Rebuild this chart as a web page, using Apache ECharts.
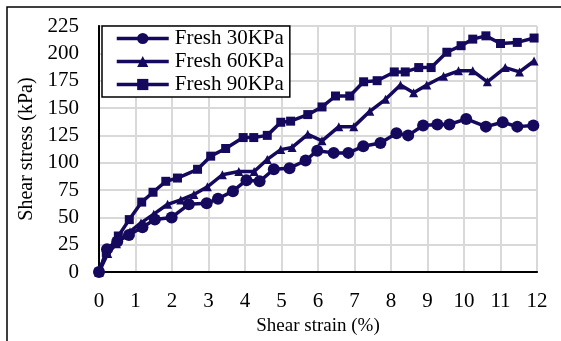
<!DOCTYPE html>
<html>
<head>
<meta charset="utf-8">
<title>Shear stress vs strain</title>
<script src="https://cdn.jsdelivr.net/npm/echarts@6/dist/echarts.min.js"></script>
<style>
    html, body { margin: 0; padding: 0; background: #fff; }
    #chart { width: 561px; height: 341px; }
</style>
</head>
<body>
<div id="chart"></div>
<script>
// 数据
var seriesNames = ['Fresh 30KPa', 'Fresh 60KPa', 'Fresh 90KPa'];

var strain30 = [0, 0.22, 0.5, 0.82, 1.19, 1.53, 1.99, 2.46, 2.95, 3.26, 3.67, 4.04, 4.4, 4.79, 5.22, 5.66, 5.98, 6.43, 6.83, 7.24, 7.71, 8.15, 8.47, 8.88, 9.27, 9.6, 10.06, 10.6, 11.06, 11.46, 11.9];
var stress30 = [0, 21, 28, 34, 41, 48, 50, 62, 63, 67, 74, 84, 83, 94, 95, 102, 111, 109, 109, 115, 118, 127, 125, 134, 135, 135, 140, 133, 137, 133, 134];

var strain60 = [0, 0.24, 0.48, 0.85, 1.15, 1.5, 1.88, 2.24, 2.6, 2.97, 3.38, 3.83, 4.25, 4.61, 4.98, 5.29, 5.72, 6.11, 6.57, 6.98, 7.42, 7.85, 8.26, 8.62, 8.98, 9.44, 9.85, 10.24, 10.64, 11.13, 11.52, 11.92];
var stress60 = [0, 17, 26, 37, 45, 53, 62, 66, 71, 78, 89, 92, 92, 103, 112, 114, 126, 120, 133, 133, 147, 158, 171, 164, 171, 179, 184, 184, 174, 187, 183, 193];

var strain90 = [0, 0.2, 0.53, 0.83, 1.17, 1.48, 1.83, 2.15, 2.7, 3.06, 3.47, 3.95, 4.24, 4.61, 4.98, 5.25, 5.72, 6.11, 6.48, 6.87, 7.25, 7.62, 8.09, 8.39, 8.76, 9.1, 9.53, 9.92, 10.24, 10.6, 11.0, 11.46, 11.92];
var stress90 = [0, 18, 33, 48, 64, 73, 83, 86, 94, 106, 113, 123, 123, 125, 137, 138, 144, 151, 161, 161, 174, 175, 183, 183, 187, 187, 201, 207, 213, 216, 209, 210, 214];

function pairs(xs, ys) {
    var out = [];
    for (var i = 0; i < xs.length; i++) {
        out.push([xs[i], ys[i]]);
    }
    return out;
}

(function () {
    var myChart = echarts.init(document.getElementById('chart'));
    var font = "'Liberation Serif', 'Times New Roman', serif";
    var lineColor = '#15095e';

    var option = {
        animation: false,
        backgroundColor: '#fff',
        textStyle: { fontFamily: font, color: '#000' },
        graphic: [
            {
                // 外框
                type: 'rect',
                shape: { x: 7, y: 7, width: 600, height: 400 },
                style: { fill: 'none', stroke: '#000', lineWidth: 1.5 },
                silent: true
            }
        ],
        grid: {
            left: 99,
            right: 24,
            top: 26,
            bottom: 67
        },
        legend: {
            orient: 'vertical',
            left: 102,
            top: 26,
            data: seriesNames,
            backgroundColor: '#fff',
            borderColor: '#000',
            borderWidth: 1.5,
            padding: [2, 6, 2, 13],
            itemGap: 2,
            itemWidth: 52,
            itemHeight: 14,
            lineStyle: { width: 3.5 },
            textStyle: { fontFamily: font, fontSize: 21, color: '#000', padding: [0, 0, 0, 1] }
        },
        xAxis: [
            {
                type: 'value',
                min: 0,
                max: 12,
                interval: 1,
                name: 'Shear strain (%)',
                nameLocation: 'middle',
                nameGap: 42,
                nameTextStyle: { fontFamily: font, fontSize: 19, color: '#000' },
                axisLine: { lineStyle: { color: '#8c8c8c', width: 2 } },
                axisTick: { show: false },
                axisLabel: { fontFamily: font, fontSize: 21, color: '#000', margin: 19 },
                splitLine: { lineStyle: { color: '#d9d9d9', width: 2 } }
            },
            {
                // 上边框
                type: 'value',
                position: 'top',
                min: 0,
                max: 12,
                axisLine: { show: true, lineStyle: { color: '#000', width: 2 } },
                axisTick: { show: false },
                axisLabel: { show: false },
                splitLine: { show: false }
            }
        ],
        yAxis: [
            {
                type: 'value',
                min: 0,
                max: 225,
                interval: 25,
                name: 'Shear stress (kPa)',
                nameLocation: 'middle',
                nameGap: 62,
                nameTextStyle: { fontFamily: font, fontSize: 20, color: '#000' },
                axisLine: { show: true, lineStyle: { color: '#8c8c8c', width: 2 } },
                axisTick: { show: false },
                axisLabel: { fontFamily: font, fontSize: 21, color: '#000', margin: 20 },
                splitLine: { lineStyle: { color: '#d9d9d9', width: 2 } }
            },
            {
                // 右边框
                type: 'value',
                position: 'right',
                min: 0,
                max: 225,
                axisLine: { show: true, lineStyle: { color: '#000', width: 2 } },
                axisTick: { show: false },
                axisLabel: { show: false },
                splitLine: { show: false }
            }
        ],
        series: [
            {
                name: seriesNames[0],
                type: 'line',
                data: pairs(strain30, stress30),
                symbol: 'circle',
                symbolSize: 12,
                itemStyle: { color: lineColor },
                lineStyle: { color: lineColor, width: 3.5 }
            },
            {
                name: seriesNames[1],
                type: 'line',
                data: pairs(strain60, stress60),
                symbol: 'triangle',
                symbolSize: 9,
                itemStyle: { color: lineColor },
                lineStyle: { color: lineColor, width: 3.5 }
            },
            {
                name: seriesNames[2],
                type: 'line',
                data: pairs(strain90, stress90),
                symbol: 'rect',
                symbolSize: 9,
                itemStyle: { color: lineColor },
                lineStyle: { color: lineColor, width: 3.5 }
            }
        ]
    };
    myChart.setOption(option);
    window.addEventListener('resize', function () {
        myChart.resize();
    });
})();
</script>
</body>
</html>
